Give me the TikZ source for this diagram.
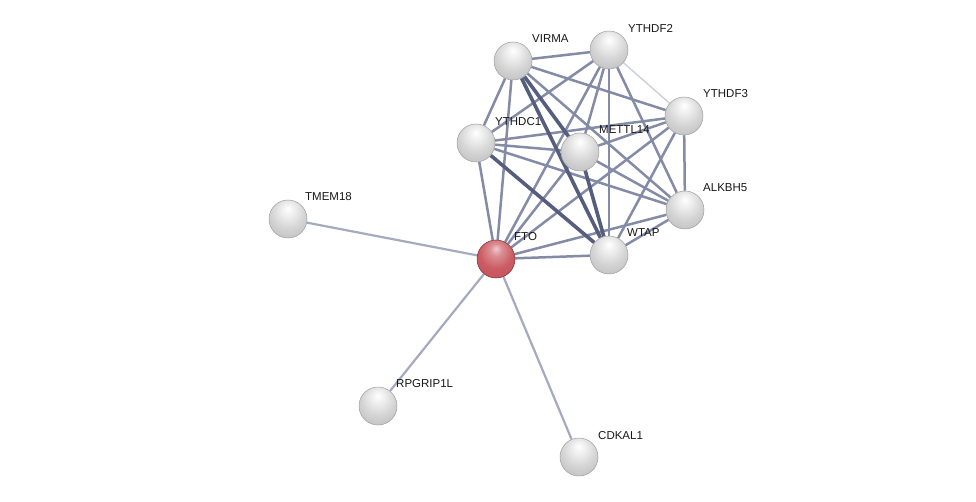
\documentclass[tikz,border=0pt]{standalone}
\usepackage{fontspec}
\setmainfont{Liberation Sans}
\usepackage{xcolor}
\usepackage{tikz}
\usetikzlibrary{backgrounds}
\definecolor{edgelight}{RGB}{165,170,192}
\definecolor{edgemid}{RGB}{132,139,167}
\definecolor{edgedark}{RGB}{86,94,126}
\definecolor{edgefaint}{RGB}{205,208,220}
\definecolor{ftored}{RGB}{200,82,90}
\pgfdeclareradialshading{glass}{\pgfpoint{0bp}{14bp}}{color(0bp)=(white); color(8bp)=(white!94!black); color(22bp)=(black!17); color(34bp)=(black!24); color(44bp)=(black!22); color(52bp)=(black!42); color(64bp)=(black!60)}
\pgfdeclareradialshading{glassred}{\pgfpoint{0bp}{14bp}}{color(0bp)=(ftored!30!white); color(8bp)=(ftored!65!white); color(22bp)=(ftored!95!white); color(34bp)=(ftored); color(44bp)=(ftored!85!white); color(52bp)=(ftored!85!black); color(64bp)=(ftored!55!black)}

\begin{document}
\begin{tikzpicture}[x=1pt, y=-1pt,
  pg/.style={circle, draw=gray!75, line width=0.5pt, shading=glass, minimum size=38pt, inner sep=0pt},
  pq/.style={pg, draw=ftored!60!black, shading=glassred},
  lbl/.style={anchor=west, inner sep=1pt, font=\fontsize{11.5}{12}\selectfont, text=black!90},
  e0/.style={draw=edgefaint, line width=1.4pt},
  e1/.style={draw=edgelight, line width=2.2pt},
  e2/.style={draw=edgemid, line width=2.5pt},
  e3/.style={draw=edgedark, line width=3.6pt}]
\useasboundingbox (0,0) rectangle (976,502);
\node[pg] (virma) at (513,61) {};
\node[pg] (ythdf2) at (609,50) {};
\node[pg] (ythdf3) at (684,116) {};
\node[pg] (ythdc1) at (476,143) {};
\node[pg] (mettl14) at (580,152) {};
\node[pg] (alkbh5) at (685,210) {};
\node[pg] (wtap) at (609,255) {};
\node[pq] (fto) at (496,259) {};
\node[pg] (tmem18) at (288,219) {};
\node[pg] (rpgrip1l) at (378,406) {};
\node[pg] (cdkal1) at (579,457) {};
\node[lbl] (virma-t) at (531,39) {VIRMA};
\node[lbl] (ythdf2-t) at (627,28) {YTHDF2};
\node[lbl] (ythdf3-t) at (702,94) {YTHDF3};
\node[lbl] (ythdc1-t) at (494,122) {YTHDC1};
\node[lbl] (mettl14-t) at (598,130) {METTL14};
\node[lbl] (alkbh5-t) at (702,188) {ALKBH5};
\node[lbl] (wtap-t) at (626,233) {WTAP};
\node[lbl] (fto-t) at (513,237) {FTO};
\node[lbl] (tmem18-t) at (304,197) {TMEM18};
\node[lbl] (rpgrip1l-t) at (395,384) {RPGRIP1L};
\node[lbl] (cdkal1-t) at (597,436) {CDKAL1};
\begin{pgfonlayer}{background}
  \fill[white] (0,0) rectangle (976,502);
  \draw[e1] (fto) -- (tmem18);
  \draw[e1] (fto) -- (rpgrip1l);
  \draw[e1] (fto) -- (cdkal1);
  \draw[e0] (ythdf2) -- (ythdf3);
  \draw[e2] (virma) -- (ythdf2);
  \draw[e2] (virma) -- (ythdf3);
  \draw[e2] (virma) -- (ythdc1);
  \draw[e2] (virma) -- (alkbh5);
  \draw[e2] (virma) -- (fto);
  \draw[e2] (ythdf2) -- (ythdc1);
  \draw[e2] (ythdf2) -- (mettl14);
  \draw[e2] (ythdf2) -- (alkbh5);
  \draw[e2] (ythdf2) -- (wtap);
  \draw[e2] (ythdf2) -- (fto);
  \draw[e2] (ythdf3) -- (ythdc1);
  \draw[e2] (ythdf3) -- (mettl14);
  \draw[e2] (ythdf3) -- (alkbh5);
  \draw[e2] (ythdf3) -- (wtap);
  \draw[e2] (ythdf3) -- (fto);
  \draw[e2] (ythdc1) -- (mettl14);
  \draw[e2] (ythdc1) -- (alkbh5);
  \draw[e2] (ythdc1) -- (fto);
  \draw[e2] (mettl14) -- (alkbh5);
  \draw[e2] (mettl14) -- (fto);
  \draw[e2] (alkbh5) -- (wtap);
  \draw[e2] (alkbh5) -- (fto);
  \draw[e2] (wtap) -- (fto);
  \draw[e3] (ythdc1) -- (wtap);
  \draw[e3] (virma) -- (mettl14);
  \draw[e3] (mettl14) -- (wtap);
  \draw[e3] (virma) -- (wtap);
\end{pgfonlayer}
\end{tikzpicture}
\end{document}
